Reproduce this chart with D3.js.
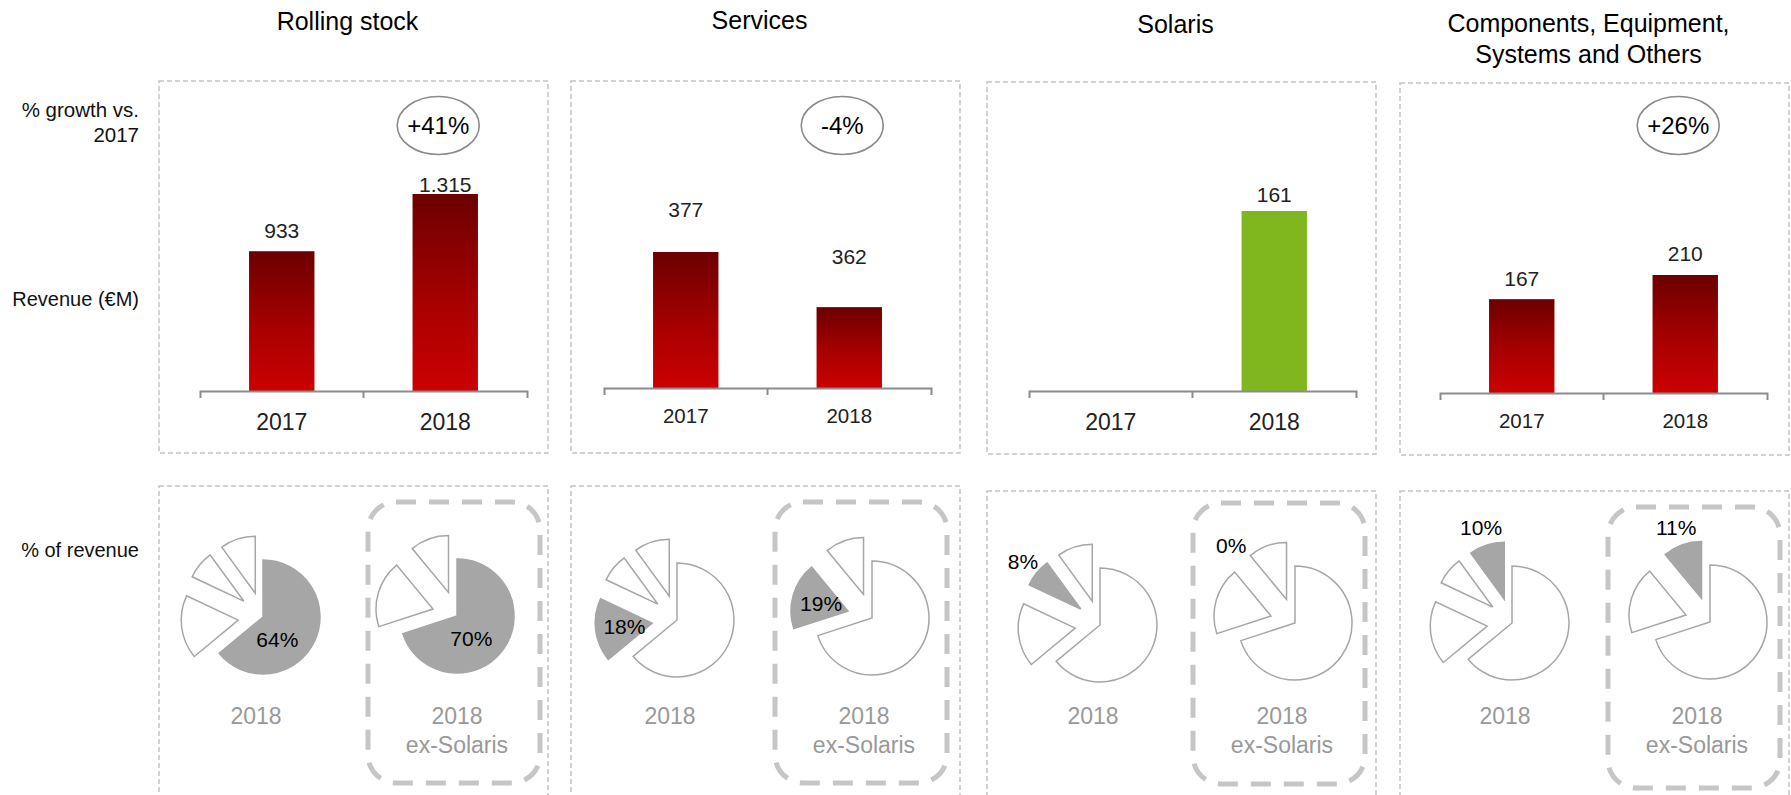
<!DOCTYPE html>
<html><head><meta charset="utf-8">
<script src="https://cdn.jsdelivr.net/npm/d3@7"></script>
<style>
html,body{margin:0;padding:0;background:#fff;}
svg{display:block;font-family:"Liberation Sans",Arial,Helvetica,sans-serif;}
</style></head><body>
<svg id="chart" width="1791" height="795"></svg>
<script>
// ---------------- DATA ----------------
const segments = ["Rolling stock", "Services", "Solaris", "Components, Equipment,\nSystems and Others"];
const years = ["2017", "2018"];
const revenue2017 = [933, 377, null, 167];
const revenue2018 = [1315, 362, 161, 210];
const growthLabels = ["+41%", "-4%", null, "+26%"];
const share2018 = [64, 18, 8, 10];
const share2018ExSolaris = [70, 19, 0, 11];
const pieCaptions = [["2018"], ["2018", "ex-Solaris"]];
const rowLabels = [["% growth vs.", "2017"], ["Revenue (€M)"], ["% of revenue"]];

// ---------------- LAYOUT / STYLE ----------------
const L = {
  boxX: [159, 571, 987, 1400], boxW: 389,
  topY: [81, 81, 82, 83], topH: 372,
  botY: [486, 486, 491, 491],
  axisX: [200, 604, 1029, 1440], axisW: 327,
  axisY: [391, 388, 391, 393],
  barTop: [194, 252, 211, 275],
  yFloor: [0, 340, 0, 0],
  labelLift: [[13, 2], [35, 43], [0, 9], [13, 14]],
  axisFont: [23, 20.5, 23, 20.5],
  titleY: [30, 29, 33, 32],
  pie1X: [263, 677, 1100, 1512], pie1Y: [617, 620, 625, 623],
  pie2X: [457, 872, 1295, 1710], pie2Y: [616, 618, 623, 622],
  innerX: [368, 775, 1193, 1608], innerY: [502, 502, 503, 507], innerW: 172, innerH: 281,
  barFill: ["grad", "grad", "#80b71f", "grad"],
  pieR: 57, explode: 25
};

const svg = d3.select("#chart");
const defs = svg.append("defs");
const grad = defs.append("linearGradient").attr("id", "redGrad")
  .attr("x1", 0).attr("y1", 0).attr("x2", 0).attr("y2", 1);
grad.append("stop").attr("offset", "0%").attr("stop-color", "#6c0000");
grad.append("stop").attr("offset", "55%").attr("stop-color", "#a80000");
grad.append("stop").attr("offset", "100%").attr("stop-color", "#cc0000");

const fmt = d3.formatLocale({decimal: ",", thousands: ".", grouping: [3], currency: ["€", ""]}).format(",d");

// Row labels
const rowLabelBase = [[117, 142], [306], [557]];
rowLabels.forEach((lines, r) => {
  const t = svg.append("text").attr("text-anchor", "end").attr("font-size", r === 0 ? 20.5 : 20)
    .attr("fill", "#111");
  lines.forEach((ln, k) => t.append("tspan").attr("x", 139).attr("y", rowLabelBase[r][k]).text(ln));
});

segments.forEach((seg, i) => {
  const g = svg.append("g");
  const bx = L.boxX[i];
  // Title
  const cx = bx + L.boxW / 2 - 6;
  const tt = g.append("text").attr("text-anchor", "middle").attr("font-size", 25).attr("fill", "#000");
  seg.split("\n").forEach((ln, k) => tt.append("tspan").attr("x", cx).attr("y", L.titleY[i] + k * 31).text(ln));

  // Top dashed box
  g.append("rect").attr("x", bx).attr("y", L.topY[i]).attr("width", L.boxW).attr("height", L.topH)
    .attr("fill", "none").attr("stroke", "#c4c4c4").attr("stroke-width", 1.5).attr("stroke-dasharray", "5,3");
  // Bottom dashed box (runs past the bottom edge)
  g.append("rect").attr("x", bx).attr("y", L.botY[i]).attr("width", L.boxW).attr("height", 400)
    .attr("fill", "none").attr("stroke", "#c4c4c4").attr("stroke-width", 1.5).attr("stroke-dasharray", "5,3");

  // Bar chart
  const x = d3.scaleBand().domain(years).range([L.axisX[i], L.axisX[i] + L.axisW]).paddingInner(0.6).paddingOuter(0.3);
  const vals = [revenue2017[i], revenue2018[i]];
  const vmax = d3.max(vals);
  const y = d3.scaleLinear().domain([L.yFloor[i], vmax]).range([L.axisY[i], L.barTop[i]]);
  const bars = years.map((yr, k) => ({yr, v: vals[k], lift: L.labelLift[i][k]})).filter(d => d.v != null);
  g.selectAll("rect.bar").data(bars).join("rect").attr("class", "bar")
    .attr("x", d => x(d.yr)).attr("width", x.bandwidth())
    .attr("y", d => y(d.v)).attr("height", d => L.axisY[i] - y(d.v))
    .attr("fill", L.barFill[i] === "grad" ? "url(#redGrad)" : L.barFill[i]);
  g.selectAll("text.val").data(bars).join("text").attr("class", "val")
    .attr("x", d => x(d.yr) + x.bandwidth() / 2).attr("y", d => y(d.v) - d.lift)
    .attr("text-anchor", "middle").attr("font-size", 21).attr("fill", "#222")
    .text(d => fmt(d.v));

  const fs = L.axisFont[i];
  const axis = d3.axisBottom(x).tickSizeInner(0).tickSizeOuter(7).tickPadding(39 - (i % 2 ? 4 : 0) - 0.71 * fs);
  const ag = g.append("g").attr("transform", `translate(0,${L.axisY[i]})`).call(axis);
  ag.select(".domain").attr("stroke", "#8c8c8c").attr("stroke-width", 2);
  ag.selectAll(".tick line").remove();
  ag.selectAll(".tick text").attr("font-size", fs).attr("fill", "#222")
    .attr("font-family", "Liberation Sans, Arial, sans-serif");
  // divider tick between the two years
  const mid = (x("2017") + x.bandwidth() + x("2018")) / 2;
  ag.append("line").attr("x1", mid).attr("x2", mid).attr("y1", 0).attr("y2", 7)
    .attr("stroke", "#8c8c8c").attr("stroke-width", 2);

  // growth ellipse
  if (growthLabels[i]) {
    const ex = x("2018") + x.bandwidth() / 2 - 7, ey = 125.5;
    g.append("ellipse").attr("cx", ex).attr("cy", ey).attr("rx", 41).attr("ry", 29)
      .attr("fill", "none").attr("stroke", "#8a8a8a").attr("stroke-width", 1.6);
    g.append("text").attr("x", ex).attr("y", ey).attr("dy", "0.35em").attr("text-anchor", "middle")
      .attr("font-size", 24).attr("fill", "#000").text(growthLabels[i]);
  }

  // Pies
  const pie = d3.pie().sort(null).value(d => d);
  const arc = d3.arc().innerRadius(0).outerRadius(L.pieR);
  const pies = [
    {shares: share2018, cx: L.pie1X[i], cy: L.pie1Y[i]},
    {shares: share2018ExSolaris, cx: L.pie2X[i], cy: L.pie2Y[i]}
  ];
  // inner rounded dashed box for ex-Solaris
  g.append("rect").attr("x", L.innerX[i]).attr("y", L.innerY[i]).attr("width", L.innerW).attr("height", L.innerH)
    .attr("rx", 28).attr("ry", 28).attr("fill", "none").attr("stroke", "#c6c6c6")
    .attr("stroke-width", 5).attr("stroke-dasharray", "20,13");

  pies.forEach((p, pi) => {
    const arcs = pie(p.shares);
    const pg = g.append("g").attr("transform", `translate(${p.cx},${p.cy})`);
    const off = d => {
      if (d.index === 0) return [0, 0];
      const m = (d.startAngle + d.endAngle) / 2;
      return [L.explode * Math.sin(m), -L.explode * Math.cos(m)];
    };
    pg.selectAll("path").data(arcs.filter(d => d.value > 0)).join("path")
      .attr("d", arc)
      .attr("transform", d => `translate(${off(d)})`)
      .attr("fill", d => d.index === i ? "#a6a6a6" : "#fff")
      .attr("stroke", "#a6a6a6").attr("stroke-width", 1.5).attr("stroke-linejoin", "miter");
    const hd = arcs[i];
    const m = (hd.startAngle + hd.endAngle) / 2;
    let lx, ly;
    if (hd.index === 0) {
      const a = 148 * Math.PI / 180; lx = 27 * Math.sin(a); ly = -27 * Math.cos(a);
    } else if (hd.value >= 15) {
      lx = 53 * Math.sin(m); ly = -53 * Math.cos(m);
    } else {
      lx = 100 * Math.sin(m); ly = -100 * Math.cos(m);
    }
    pg.append("text").attr("x", lx).attr("y", ly).attr("dy", "0.35em").attr("text-anchor", "middle")
      .attr("font-size", 21).attr("fill", "#000").text(hd.value + "%");

    // caption
    const capX = pi === 0 ? p.cx - 7 : L.innerX[i] + L.innerW / 2 + 3;
    const ct = g.append("text").attr("text-anchor", "middle").attr("font-size", 23).attr("fill", "#999");
    pieCaptions[pi].forEach((ln, k) => ct.append("tspan").attr("x", capX).attr("y", 724 + k * 29).text(ln));
  });
});
</script>
</body></html>
